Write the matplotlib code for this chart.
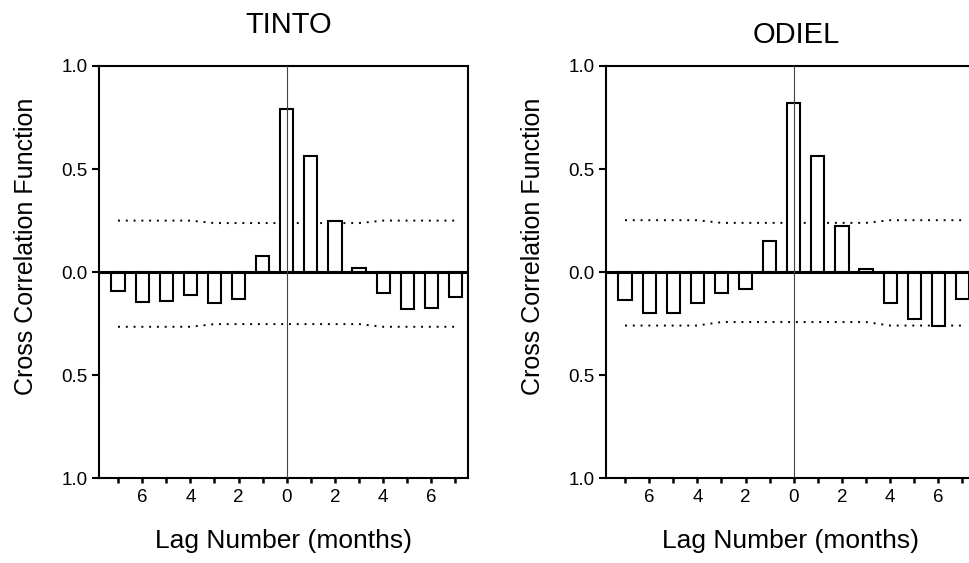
import matplotlib
matplotlib.use("Agg")
import matplotlib.pyplot as plt
import numpy as np

plt.rcParams['font.family'] = ['Liberation Sans', 'DejaVu Sans']

# lags -7 .. 7
lags = np.arange(-7, 8)

# cross correlation values
tinto = [-0.089, -0.145, -0.138, -0.109, -0.150, -0.130, 0.078, 0.790,
         0.562, 0.247, 0.018, -0.102, -0.177, -0.172, -0.122]
odiel = [-0.137, -0.200, -0.200, -0.150, -0.102, -0.080, 0.150, 0.821,
         0.562, 0.226, 0.013, -0.151, -0.228, -0.262, -0.130]

# confidence limits (dotted lines)
tinto_upper = [0.250, 0.250, 0.250, 0.250, 0.238, 0.238, 0.238, 0.238,
               0.238, 0.238, 0.238, 0.250, 0.250, 0.250, 0.250]
tinto_lower = [-0.265, -0.265, -0.265, -0.265, -0.252, -0.252, -0.252, -0.252,
               -0.252, -0.252, -0.252, -0.265, -0.265, -0.265, -0.265]
odiel_upper = [0.252, 0.252, 0.252, 0.252, 0.239, 0.239, 0.239, 0.239,
               0.239, 0.239, 0.239, 0.252, 0.252, 0.252, 0.252]
odiel_lower = [-0.259, -0.259, -0.259, -0.259, -0.242, -0.242, -0.242, -0.242,
               -0.242, -0.242, -0.242, -0.259, -0.259, -0.259, -0.259]

ytick_vals = [1.0, 0.5, 0.0, -0.5, -1.0]
ytick_labels = ['1.0', '0.5', '0.0', '0.5', '1.0']
xtick_labels = [str(abs(l)) if l % 2 == 0 else '' for l in lags]

fig = plt.figure(figsize=(9.7, 5.63), dpi=100)

panels = [
    ('TINTO', tinto, tinto_upper, tinto_lower, 99, 24),
    ('ODIEL', odiel, odiel_upper, odiel_lower, 606, 16.5),
]

for title, vals, up, lo, left_px, tpad in panels:
    ax = fig.add_axes([left_px / 970, 0.1504, 369 / 970, 0.7324])
    ax.bar(lags, vals, width=0.55, color='white', edgecolor='black',
           linewidth=1.5, zorder=2)
    ax.axhline(0, color='black', linewidth=2.2, zorder=3)
    ax.axvline(0, color='#444444', linewidth=0.8, zorder=4)
    ax.plot(lags, up, color='black', linestyle=(0, (1, 3)), linewidth=1.4, zorder=1)
    ax.plot(lags, lo, color='black', linestyle=(0, (1, 3)), linewidth=1.4, zorder=1)

    ax.set_xlim(-7.79, 7.52)
    ax.set_ylim(-1.0, 1.0)
    ax.set_yticks(ytick_vals)
    ax.set_yticklabels(ytick_labels)
    ax.set_xticks(lags)
    ax.set_xticklabels(xtick_labels)
    ax.tick_params(axis='y', direction='out', length=5, width=1.5, labelsize=13.5, pad=3)
    ax.tick_params(axis='x', direction='out', length=3.5, width=1.8, labelsize=13.5, pad=4)
    for s in ax.spines.values():
        s.set_linewidth(1.5)

    ax.set_title(title, fontsize=21, pad=tpad, x=0.515)
    ax.set_xlabel('Lag Number (months)', fontsize=19, labelpad=17)
    ax.set_ylabel('Cross Correlation Function', fontsize=18)
    ax.yaxis.set_label_coords(-0.165, 0.563)

fig.savefig('out.png', dpi=100)
